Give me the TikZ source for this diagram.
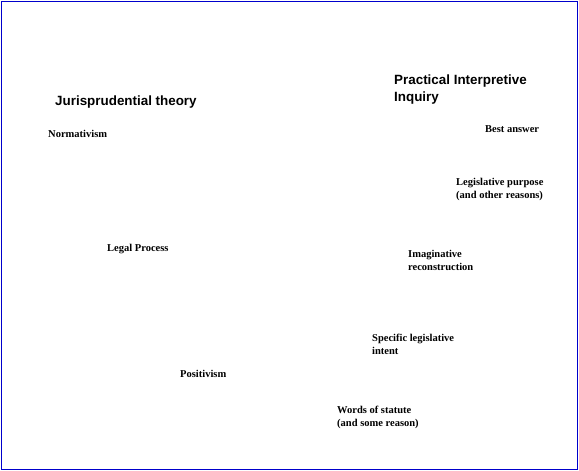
\documentclass[tikz,border=0pt]{standalone}
\usepackage{fontspec}
\setmainfont{Liberation Serif}
\newfontfamily\headfont{Liberation Sans}
\begin{document}
\begin{tikzpicture}[x=1pt,y=-1pt,
  every node/.style={inner sep=0pt,anchor=base west,align=left},
  head/.style={font=\headfont\bfseries\fontsize{13.4}{17}\selectfont},
  term/.style={font=\bfseries\fontsize{10.5}{13}\selectfont}]
  \useasboundingbox (0,0) rectangle (579,471);
  \draw[blue!80!black,line width=1pt] (1,1) rectangle (577,469);
  % left column
  \node[head] (jt) at (55,105) {Jurisprudential theory};
  \node[term] (norm) at (48,137) {Normativism};
  \node[term] (lp) at (107,251) {Legal Process};
  \node[term] (pos) at (180,377) {Positivism};
  % right column (base of the last line)
  \node[head] (pii) at (394,101) {Practical Interpretive\\Inquiry};
  \node[term] (best) at (485,132) {Best answer};
  \node[term] (purp) at (456,198) {Legislative purpose\\(and other reasons)};
  \node[term] (imag) at (408,270) {Imaginative\\reconstruction};
  \node[term] (spec) at (372,354) {Specific legislative\\intent};
  \node[term] (words) at (337,426) {Words of statute\\(and some reason)};
\end{tikzpicture}
\end{document}
